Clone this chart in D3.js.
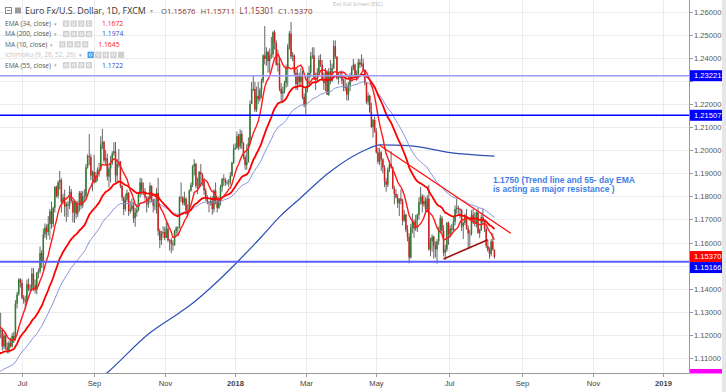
<!DOCTYPE html>
<html><head><meta charset="utf-8">
<script src="https://cdn.jsdelivr.net/npm/d3@7"></script>
<style>body{margin:0;background:#fff;overflow:hidden}svg{display:block}</style>
</head><body>
<svg id="c" width="726" height="392"></svg>
<script>
// ---------------- DATA ----------------
const startDate = "2017-06-12";           // first daily bar (weekdays only)
const warmupCloses = [1.1180,1.1245,1.1215,1.1280,1.1250,1.1275,1.1260,1.1210,1.1195]; // closes before the first bar (for MA10)
// daily bars [open, high, low, close]
const bars = [
// 2017-06
[1.1195,1.1225,1.1180,1.1200],[1.1200,1.1230,1.1190,1.1215],[1.1215,1.1296,1.1185,1.1220],[1.1220,1.1225,1.1132,1.1150],[1.1150,1.1208,1.1138,1.1197],
[1.1197,1.1212,1.1135,1.1145],[1.1145,1.1168,1.1120,1.1135],[1.1135,1.1175,1.1120,1.1165],[1.1165,1.1188,1.1145,1.1150],[1.1150,1.1208,1.1145,1.1195],
[1.1195,1.1214,1.1165,1.1180],[1.1180,1.1350,1.1175,1.1335],[1.1335,1.1387,1.1315,1.1375],[1.1375,1.1445,1.1370,1.1440],[1.1440,1.1446,1.1405,1.1425],
// 2017-07
[1.1425,1.1440,1.1355,1.1360],[1.1360,1.1372,1.1335,1.1350],[1.1350,1.1370,1.1312,1.1345],[1.1345,1.1440,1.1340,1.1420],[1.1420,1.1445,1.1390,1.1400],
[1.1400,1.1418,1.1385,1.1400],[1.1400,1.1490,1.1390,1.1465],[1.1465,1.1490,1.1390,1.1415],[1.1415,1.1440,1.1380,1.1395],[1.1395,1.1472,1.1375,1.1470],
[1.1470,1.1488,1.1445,1.1475],[1.1475,1.1583,1.1465,1.1555],[1.1555,1.1567,1.1490,1.1515],[1.1515,1.1660,1.1480,1.1635],[1.1635,1.1683,1.1620,1.1665],
[1.1665,1.1678,1.1612,1.1645],[1.1645,1.1714,1.1630,1.1680],[1.1680,1.1745,1.1612,1.1735],[1.1735,1.1777,1.1660,1.1680],[1.1680,1.1755,1.1667,1.1750],
[1.1750,1.1845,1.1730,1.1840],
// 2017-08
[1.1840,1.1846,1.1795,1.1802],[1.1802,1.1868,1.1790,1.1860],[1.1860,1.1910,1.1830,1.1870],[1.1870,1.1878,1.1729,1.1775],[1.1775,1.1810,1.1765,1.1795],
[1.1795,1.1829,1.1712,1.1755],[1.1755,1.1775,1.1689,1.1765],[1.1765,1.1779,1.1710,1.1760],[1.1760,1.1846,1.1745,1.1820],[1.1820,1.1832,1.1770,1.1780],
[1.1780,1.1785,1.1687,1.1730],[1.1730,1.1778,1.1685,1.1770],[1.1770,1.1780,1.1704,1.1725],[1.1725,1.1780,1.1710,1.1760],[1.1760,1.1823,1.1734,1.1815],
[1.1815,1.1824,1.1743,1.1760],[1.1760,1.1822,1.1750,1.1800],[1.1800,1.1830,1.1775,1.1800],[1.1800,1.1940,1.1790,1.1925],[1.1925,1.1982,1.1920,1.1975],
[1.1975,1.2070,1.1935,1.1970],[1.1970,1.1982,1.1870,1.1890],[1.1890,1.1912,1.1822,1.1905],
// 2017-09
[1.1905,1.1980,1.1855,1.1860],[1.1860,1.1905,1.1860,1.1890],[1.1890,1.1925,1.1866,1.1915],[1.1915,1.1945,1.1885,1.1915],[1.1915,1.2060,1.1910,1.2025],
[1.2025,1.2092,1.2005,1.2035],[1.2035,1.2040,1.1945,1.1955],[1.1955,1.2000,1.1935,1.1965],[1.1965,1.1985,1.1868,1.1885],[1.1885,1.1930,1.1838,1.1920],
[1.1920,1.1975,1.1860,1.1945],[1.1945,1.1995,1.1935,1.1985],[1.1985,1.2034,1.1975,1.1995],[1.1995,1.2035,1.1860,1.1890],[1.1890,1.1962,1.1860,1.1940],
[1.1940,1.2005,1.1925,1.1950],[1.1950,1.1953,1.1835,1.1845],[1.1845,1.1850,1.1780,1.1795],[1.1795,1.1800,1.1718,1.1745],[1.1745,1.1810,1.1735,1.1785],
[1.1785,1.1830,1.1775,1.1815],
// 2017-10
[1.1815,1.1818,1.1715,1.1735],[1.1735,1.1780,1.1725,1.1745],[1.1745,1.1790,1.1735,1.1760],[1.1760,1.1775,1.1685,1.1705],[1.1705,1.1750,1.1668,1.1730],
[1.1730,1.1765,1.1712,1.1740],[1.1740,1.1820,1.1735,1.1810],[1.1810,1.1880,1.1795,1.1860],[1.1860,1.1878,1.1805,1.1825],[1.1825,1.1860,1.1805,1.1820],
[1.1820,1.1835,1.1785,1.1795],[1.1795,1.1800,1.1730,1.1765],[1.1765,1.1800,1.1750,1.1790],[1.1790,1.1860,1.1770,1.1845],[1.1845,1.1848,1.1775,1.1785],
[1.1785,1.1790,1.1730,1.1760],[1.1760,1.1790,1.1740,1.1760],[1.1760,1.1835,1.1725,1.1815],[1.1815,1.1880,1.1630,1.1650],[1.1650,1.1660,1.1575,1.1610],
[1.1610,1.1650,1.1590,1.1640],[1.1640,1.1670,1.1620,1.1645],
// 2017-11
[1.1645,1.1668,1.1610,1.1620],[1.1620,1.1688,1.1620,1.1660],[1.1660,1.1685,1.1602,1.1610],[1.1610,1.1615,1.1565,1.1610],[1.1610,1.1620,1.1554,1.1595],
[1.1595,1.1610,1.1565,1.1590],[1.1590,1.1655,1.1585,1.1650],[1.1650,1.1670,1.1630,1.1665],[1.1665,1.1670,1.1630,1.1665],[1.1665,1.1800,1.1660,1.1795],
[1.1795,1.1860,1.1775,1.1795],[1.1795,1.1800,1.1760,1.1770],[1.1770,1.1820,1.1760,1.1790],[1.1790,1.1795,1.1720,1.1735],[1.1735,1.1765,1.1710,1.1735],
[1.1735,1.1830,1.1730,1.1825],[1.1825,1.1860,1.1820,1.1850],[1.1850,1.1935,1.1840,1.1930],[1.1930,1.1960,1.1890,1.1940],[1.1940,1.1945,1.1835,1.1845],
[1.1845,1.1880,1.1810,1.1845],[1.1845,1.1910,1.1835,1.1905],
// 2017-12
[1.1905,1.1940,1.1840,1.1895],[1.1895,1.1900,1.1845,1.1865],[1.1865,1.1880,1.1805,1.1825],[1.1825,1.1835,1.1780,1.1795],[1.1795,1.1805,1.1765,1.1775],
[1.1775,1.1780,1.1730,1.1770],[1.1770,1.1800,1.1760,1.1780],[1.1780,1.1800,1.1720,1.1745],[1.1745,1.1830,1.1730,1.1825],[1.1825,1.1860,1.1765,1.1780],
[1.1780,1.1795,1.1730,1.1750],[1.1750,1.1800,1.1745,1.1780],[1.1780,1.1850,1.1760,1.1840],[1.1840,1.1880,1.1820,1.1875],[1.1875,1.1895,1.1845,1.1870],
[1.1870,1.1880,1.1845,1.1860],[1.1860,1.1870,1.1850,1.1860],[1.1860,1.1875,1.1840,1.1860],[1.1860,1.1905,1.1850,1.1890],[1.1890,1.1950,1.1885,1.1945],
[1.1945,1.2025,1.1940,1.2005],
// 2018-01
[1.2005,1.2030,1.2000,1.2010],[1.2010,1.2080,1.2005,1.2060],[1.2060,1.2070,1.2000,1.2015],[1.2015,1.2090,1.2005,1.2070],[1.2070,1.2085,1.2005,1.2030],
[1.2030,1.2035,1.1960,1.1970],[1.1970,1.1980,1.1915,1.1935],[1.1935,1.2025,1.1915,1.1950],[1.1950,1.2055,1.1945,1.2030],[1.2030,1.2215,1.2025,1.2200],
[1.2200,1.2295,1.2200,1.2265],[1.2265,1.2325,1.2255,1.2265],[1.2265,1.2295,1.2165,1.2175],[1.2175,1.2275,1.2165,1.2235],[1.2235,1.2295,1.2200,1.2220],
[1.2220,1.2270,1.2210,1.2260],[1.2260,1.2310,1.2225,1.2300],[1.2300,1.2415,1.2290,1.2410],[1.2410,1.2537,1.2370,1.2395],[1.2395,1.2445,1.2365,1.2425],
[1.2425,1.2430,1.2335,1.2385],[1.2385,1.2440,1.2335,1.2410],[1.2410,1.2490,1.2395,1.2415],
// 2018-02
[1.2415,1.2515,1.2400,1.2510],[1.2510,1.2520,1.2435,1.2465],[1.2465,1.2475,1.2365,1.2370],[1.2370,1.2435,1.2340,1.2375],[1.2375,1.2405,1.2255,1.2265],
[1.2265,1.2290,1.2210,1.2245],[1.2245,1.2275,1.2205,1.2255],[1.2255,1.2300,1.2245,1.2290],[1.2290,1.2370,1.2270,1.2350],[1.2350,1.2460,1.2275,1.2450],
[1.2450,1.2515,1.2435,1.2505],[1.2505,1.2555,1.2395,1.2405],[1.2405,1.2425,1.2385,1.2410],[1.2410,1.2415,1.2325,1.2335],[1.2335,1.2360,1.2260,1.2285],
[1.2285,1.2350,1.2260,1.2325],[1.2325,1.2335,1.2280,1.2295],[1.2295,1.2355,1.2285,1.2320],[1.2320,1.2345,1.2220,1.2230],[1.2230,1.2245,1.2185,1.2195],
// 2018-03
[1.2195,1.2275,1.2155,1.2265],[1.2265,1.2335,1.2250,1.2315],[1.2315,1.2365,1.2275,1.2335],[1.2335,1.2425,1.2315,1.2405],[1.2405,1.2445,1.2395,1.2410],
[1.2410,1.2445,1.2305,1.2310],[1.2310,1.2335,1.2260,1.2305],[1.2305,1.2355,1.2295,1.2335],[1.2335,1.2410,1.2320,1.2390],[1.2390,1.2415,1.2360,1.2370],
[1.2370,1.2390,1.2300,1.2305],[1.2305,1.2335,1.2260,1.2290],[1.2290,1.2355,1.2255,1.2340],[1.2340,1.2345,1.2240,1.2240],[1.2240,1.2355,1.2235,1.2340],
[1.2340,1.2390,1.2285,1.2300],[1.2300,1.2375,1.2295,1.2355],[1.2355,1.2475,1.2350,1.2450],[1.2450,1.2475,1.2395,1.2405],[1.2405,1.2405,1.2305,1.2310],
[1.2310,1.2335,1.2285,1.2320],[1.2320,1.2335,1.2310,1.2325],
// 2018-04
[1.2325,1.2345,1.2285,1.2300],[1.2300,1.2310,1.2255,1.2270],[1.2270,1.2320,1.2255,1.2275],[1.2275,1.2290,1.2215,1.2240],[1.2240,1.2295,1.2215,1.2280],
[1.2280,1.2335,1.2255,1.2320],[1.2320,1.2365,1.2305,1.2355],[1.2355,1.2395,1.2345,1.2370],[1.2370,1.2375,1.2315,1.2325],[1.2325,1.2345,1.2300,1.2330],
[1.2330,1.2395,1.2320,1.2380],[1.2380,1.2395,1.2355,1.2370],[1.2370,1.2414,1.2360,1.2375],[1.2375,1.2395,1.2340,1.2345],[1.2345,1.2350,1.2280,1.2290],
[1.2290,1.2295,1.2200,1.2210],[1.2210,1.2250,1.2195,1.2235],[1.2235,1.2240,1.2160,1.2165],[1.2165,1.2205,1.2095,1.2100],[1.2100,1.2135,1.2055,1.2130],
[1.2130,1.2145,1.2075,1.2080],
// 2018-05
[1.2080,1.2095,1.1985,1.1990],[1.1990,1.2010,1.1940,1.1950],[1.1950,1.2010,1.1935,1.1990],[1.1990,1.1995,1.1910,1.1960],[1.1960,1.1965,1.1900,1.1925],
[1.1925,1.1935,1.1840,1.1865],[1.1865,1.1880,1.1820,1.1850],[1.1850,1.1925,1.1840,1.1915],[1.1915,1.1955,1.1905,1.1940],[1.1940,1.1995,1.1925,1.1925],
[1.1925,1.1930,1.1830,1.1835],[1.1835,1.1845,1.1765,1.1810],[1.1810,1.1830,1.1790,1.1795],[1.1795,1.1810,1.1750,1.1770],[1.1770,1.1790,1.1715,1.1790],
[1.1790,1.1830,1.1765,1.1780],[1.1780,1.1790,1.1675,1.1695],[1.1695,1.1740,1.1690,1.1720],[1.1720,1.1725,1.1645,1.1655],[1.1655,1.1675,1.1605,1.1625],
[1.1625,1.1640,1.1510,1.1535],[1.1535,1.1680,1.1530,1.1665],[1.1665,1.1725,1.1640,1.1690],
// 2018-06
[1.1690,1.1700,1.1620,1.1660],[1.1660,1.1720,1.1650,1.1695],[1.1695,1.1725,1.1645,1.1720],[1.1720,1.1795,1.1700,1.1775],[1.1775,1.1840,1.1765,1.1800],
[1.1800,1.1810,1.1730,1.1765],[1.1765,1.1805,1.1755,1.1780],[1.1780,1.1795,1.1725,1.1745],[1.1745,1.1805,1.1730,1.1790],[1.1790,1.1850,1.1565,1.1570],
[1.1570,1.1620,1.1540,1.1605],[1.1605,1.1635,1.1560,1.1625],[1.1625,1.1630,1.1530,1.1585],[1.1585,1.1605,1.1535,1.1570],[1.1570,1.1615,1.1508,1.1605],
[1.1605,1.1670,1.1590,1.1655],[1.1655,1.1720,1.1645,1.1705],[1.1705,1.1715,1.1640,1.1650],[1.1650,1.1675,1.1540,1.1555],[1.1555,1.1590,1.1525,1.1570],
[1.1570,1.1690,1.1560,1.1685],
// 2018-07
[1.1685,1.1690,1.1590,1.1635],[1.1635,1.1675,1.1620,1.1660],[1.1660,1.1680,1.1630,1.1655],[1.1655,1.1715,1.1650,1.1690],[1.1690,1.1760,1.1675,1.1745],
[1.1745,1.1790,1.1725,1.1750],[1.1750,1.1760,1.1720,1.1745],[1.1745,1.1750,1.1705,1.1740],[1.1740,1.1745,1.1650,1.1670],[1.1670,1.1690,1.1615,1.1685],
[1.1685,1.1725,1.1675,1.1710],[1.1710,1.1745,1.1655,1.1660],[1.1660,1.1675,1.1575,1.1640],[1.1640,1.1655,1.1575,1.1640],[1.1640,1.1740,1.1630,1.1720],
[1.1720,1.1745,1.1680,1.1695],[1.1695,1.1730,1.1670,1.1685],[1.1685,1.1735,1.1665,1.1730],[1.1730,1.1750,1.1640,1.1640],[1.1640,1.1660,1.1620,1.1655],
[1.1655,1.1720,1.1650,1.1710],[1.1710,1.1745,1.1675,1.1690],
// 2018-08
[1.1690,1.1700,1.1645,1.1660],[1.1660,1.1665,1.1575,1.1585],[1.1585,1.1610,1.1560,1.1565],[1.1565,1.1580,1.1530,1.1550],[1.1550,1.1615,1.1540,1.1605],
[1.1605,1.1640,1.1565,1.1570],[1.15676,1.15711,1.15301,1.15370]
];
const ema34Seed = 1.1110;   // EMA(34) level at the first bar
const ema55Seed = 1.1030;   // EMA(55) level at the first bar
const ma200Dates  = ["2017-08-21","2017-09-13","2017-10-19","2017-11-14","2017-11-22","2017-12-15","2018-01-03","2018-01-23","2018-02-07","2018-02-26","2018-03-21","2018-04-24","2018-05-03","2018-05-29","2018-07-03","2018-08-09"];
const ma200Values = [1.0937,1.1036,1.1209,1.1296,1.1326,1.1430,1.1521,1.1625,1.1711,1.1794,1.1902,1.2006,1.2023,1.2019,1.1989,1.1974];
const hLevels = [1.23221, 1.21507, 1.15166];
const hColors = ["#9a9aff", "#0000ff", "#5c5cff"];
const trendLine = [["2018-05-03", 1.2021], ["2018-08-23", 1.1640]];
const supportLine = [["2018-06-27", 1.1529], ["2018-08-03", 1.1612]];
const yTicks = [1.11,1.12,1.13,1.14,1.15,1.16,1.17,1.18,1.19,1.20,1.21,1.22,1.23,1.24,1.25,1.26];
const monthTicks  = ["2017-07-03","2017-09-01","2017-11-01","2018-01-01","2018-03-01","2018-05-01","2018-07-02","2018-09-03","2018-11-01","2019-01-01"];
const monthLabels = ["Jul","Sep","Nov","2018","Mar","May","Jul","Sep","Nov","2019"];
const legendNames  = ["EMA (34, close)","MA (200, close)","MA (10, close)","Ichimoku (9, 26, 52, 26)","EMA (55, close)"];
const legendValues = ["1.1672","1.1974","1.1645","","1.1722"];
const legendColors = ["#ff2020","#3050c0","#ff2020","#bbbbbb","#3050c0"];
const headerTitle = "Euro Fx/U.S. Dollar, 1D, FXCM";
const ohlcLetters = ["O","H","L","C"];
const ohlcValues = ["1.15676","1.15711","1.15301","1.15370"];
const noteLines = ["1.1750 (Trend line and 55- day EMA", "is acting as major resistance )"];

// ---------------- CHART ----------------
const svg = d3.select("#c");
const PW = 689, PH = 373;
const parse = d3.utcParse("%Y-%m-%d"), fmt = d3.utcFormat("%Y-%m-%d");
const calendar = d3.utcDay.range(parse(startDate), parse("2019-03-01")).filter(d => d.getUTCDay() % 6 !== 0);
const idxOf = new Map(calendar.map((d, i) => [fmt(d), i]));
const x = d3.scaleLinear().domain([idxOf.get("2017-07-03"), idxOf.get("2018-07-02")]).range([22, 448.5]);
const y = d3.scaleLinear().domain([1.11, 1.26]).range([358, 11.5]);

svg.append("rect").attr("width", 726).attr("height", 392).attr("fill", "#fff");
svg.append("defs").append("clipPath").attr("id", "plot").append("rect").attr("width", PW).attr("height", PH);

// grid
const grid = svg.append("g");
grid.selectAll(".hg").data(yTicks).join("line")
  .attr("x1", 0).attr("x2", PW).attr("y1", d => Math.round(y(d)) + 0.5).attr("y2", d => Math.round(y(d)) + 0.5)
  .attr("stroke", "#ececec");
grid.selectAll(".vg").data(monthTicks).join("line")
  .attr("y1", 0).attr("y2", PH).attr("x1", d => Math.round(x(idxOf.get(d))) + 0.5).attr("x2", d => Math.round(x(idxOf.get(d))) + 0.5)
  .attr("stroke", "#ececec");

const plot = svg.append("g").attr("clip-path", "url(#plot)");

// candles
const cg = plot.append("g");
bars.forEach((b, i) => {
  const [o, h, l, c] = b;
  const up = c >= o;
  cg.append("line").attr("x1", x(i)).attr("x2", x(i)).attr("y1", y(h)).attr("y2", y(l))
    .attr("stroke", "#555").attr("stroke-width", 0.9);
  const y0 = Math.min(y(o), y(c)), hh = Math.max(0.8, Math.abs(y(o) - y(c)));
  cg.append("rect").attr("x", x(i) - 0.75).attr("width", 1.5).attr("y", y0).attr("height", hh)
    .attr("fill", up ? "#2e7d32" : "#cf2020");
});

// indicators
const closes = bars.map(b => b[3]);
const ema = (seed, n) => { const k = 2 / (n + 1); let e = seed; return closes.map((c, i) => (i === 0 ? e : (e = e + k * (c - e)))); };
const ema34 = ema(ema34Seed, 34), ema55 = ema(ema55Seed, 55);
const all = warmupCloses.concat(closes);
const ma10 = closes.map((c, i) => d3.mean(all.slice(i, i + 10)));
const line = d3.line().x((d, i) => x(i)).y(d => y(d));
plot.append("path").attr("d", d3.line().curve(d3.curveMonotoneX).x((d, i) => x(idxOf.get(ma200Dates[i]))).y(d => y(d))(ma200Values))
  .attr("fill", "none").attr("stroke", "#2c4fb5").attr("stroke-width", 1.2);
plot.append("path").attr("d", line(ema55)).attr("fill", "none").attr("stroke", "#8393dc").attr("stroke-width", 1);
plot.append("path").attr("d", line(ema34)).attr("fill", "none").attr("stroke", "#ff0000").attr("stroke-width", 1.8);
plot.append("path").attr("d", line(ma10)).attr("fill", "none").attr("stroke", "#ff1a1a").attr("stroke-width", 1.4);

// drawings
hLevels.forEach((v, i) => {
  plot.append("line").attr("x1", 0).attr("x2", PW).attr("y1", y(v)).attr("y2", y(v))
    .attr("stroke", hColors[i]).attr("stroke-width", i === 2 ? 2 : 1.4);
});
const seg = (pts, col, w) => plot.append("line")
  .attr("x1", x(idxOf.get(pts[0][0]))).attr("y1", y(pts[0][1]))
  .attr("x2", x(idxOf.get(pts[1][0]))).attr("y2", y(pts[1][1]))
  .attr("stroke", col).attr("stroke-width", w);
seg(trendLine, "#ff1010", 1.3);
seg(supportLine, "#a01010", 1.6);

// fit a text's font size to a target width
const fitText = (sel, target) => {
  const fs = +sel.attr("font-size");
  const w = sel.node().getComputedTextLength();
  sel.attr("font-size", (fs * target / w).toFixed(2));
  return fs * target / w;
};
const n0 = svg.append("text").attr("x", 493).attr("y", 182.5)
  .attr("font-family", "Liberation Sans, Arial, sans-serif").attr("font-weight", "bold").attr("font-size", 8)
  .attr("fill", "#3f80e6").text(noteLines[0]);
const noteFs = fitText(n0, 142);
svg.append("text").attr("x", 493).attr("y", 191.5)
  .attr("font-family", "Liberation Sans, Arial, sans-serif").attr("font-weight", "bold").attr("font-size", noteFs.toFixed(2))
  .attr("fill", "#3f80e6").text(noteLines[1]);

// axes
const axisFont = "Liberation Sans, Arial, sans-serif";
svg.append("line").attr("x1", PW + 0.5).attr("x2", PW + 0.5).attr("y1", 0).attr("y2", PH + 0.5).attr("stroke", "#9a9a9a");
svg.append("line").attr("x1", 0).attr("x2", PW + 0.5).attr("y1", PH + 0.5).attr("y2", PH + 0.5).attr("stroke", "#9a9a9a");

const lastClose = closes[closes.length - 1];
const tagCenters = [y(hLevels[0]), y(hLevels[1]), y(lastClose) - 0.5, y(lastClose) + 10.5];
yTicks.forEach(v => {
  const yy = Math.round(y(v)) + 0.5;
  svg.append("line").attr("x1", PW).attr("x2", PW + 4).attr("y1", yy).attr("y2", yy).attr("stroke", "#9a9a9a");
  if (tagCenters.some(t => Math.abs(t - yy) < 9)) return;   // hidden behind a price tag
  svg.append("text").attr("x", PW + 5).attr("y", yy + 2.7).attr("font-family", axisFont).attr("font-size", 7.6)
    .attr("fill", "#555").text(v.toFixed(5));
});
monthTicks.forEach((d, i) => {
  const xx = Math.round(x(idxOf.get(d))) + 0.5;
  svg.append("line").attr("x1", xx).attr("x2", xx).attr("y1", PH).attr("y2", PH + 4).attr("stroke", "#9a9a9a");
  svg.append("text").attr("x", xx).attr("y", 386).attr("text-anchor", "middle").attr("font-family", axisFont)
    .attr("font-size", 7.6).attr("font-weight", /\d{4}/.test(monthLabels[i]) ? "bold" : "normal").attr("fill", "#444").text(monthLabels[i]);
});

// price labels on the right axis
const tag = (v, yc, col) => {
  svg.append("rect").attr("x", PW + 1).attr("y", yc - 5.5).attr("width", 32).attr("height", 11).attr("fill", col);
  svg.append("text").attr("x", PW + 5).attr("y", yc + 2.8).attr("font-family", axisFont).attr("font-size", 7.6)
    .attr("fill", "#fff").text(v.toFixed(5));
};
tag(hLevels[0], tagCenters[0], "#0000ff");
tag(hLevels[1], tagCenters[1], "#0000ff");
tag(lastClose, tagCenters[2], "#ff0000");
tag(hLevels[2], tagCenters[3], "#0000ff");
svg.append("rect").attr("x", PW + 1).attr("y", 369).attr("width", 32).attr("height", 4.5).attr("fill", "#ff00ff");
svg.append("rect").attr("x", 722).attr("y", 0).attr("width", 4).attr("height", 392).attr("fill", "#e6e6e6");

// header
const hf = "Open Sans, Lato, sans-serif";
svg.append("rect").attr("x", 5.5).attr("y", 7.5).attr("width", 6).attr("height", 6).attr("fill", "#fff").attr("stroke", "#888");
svg.append("line").attr("x1", 7).attr("x2", 10.5).attr("y1", 10.5).attr("y2", 10.5).attr("stroke", "#888");
svg.append("rect").attr("x", 15).attr("y", 7.5).attr("width", 6).attr("height", 6).attr("fill", "#9a9a9a");
const title = svg.append("text").attr("x", 25).attr("y", 14).attr("font-family", hf).attr("font-size", 9).attr("fill", "#333").text(headerTitle);
fitText(title, 121);
svg.append("text").attr("x", 149.5).attr("y", 13).attr("font-family", hf).attr("font-size", 6).attr("fill", "#aaa").text("▾");
const ohlcX = [161, 200.5, 239.5, 278];
ohlcLetters.forEach((L, i) => {
  const t = svg.append("text").attr("x", ohlcX[i]).attr("y", 14).attr("font-family", hf).attr("font-size", 8);
  t.append("tspan").attr("fill", "#555").text(L);
  t.append("tspan").attr("fill", "#8b2c2c").text(ohlcValues[i]);
  fitText(t, 34.5);
});
svg.append("text").attr("x", 333).attr("y", 6).attr("font-family", hf).attr("font-size", 5.2).attr("fill", "#b8b8b8").text("Exit Full Screen (ESC)");

// indicator legend
legendNames.forEach((name, i) => {
  const yc = 23.5 + i * 10.4;
  const t = svg.append("text").attr("x", 5).attr("y", yc + 2.5).attr("font-family", hf).attr("font-size", 6.6)
    .attr("fill", i === 3 ? "#c4c4c4" : "#555").text(name);
  const w = t.node().getComputedTextLength();
  svg.append("text").attr("x", 5 + w + 3).attr("y", yc + 2.2).attr("font-family", hf).attr("font-size", 5).attr("fill", "#aaa").text("▾");
  const bx = 5 + w + 12;
  for (let k = 0; k < 4; k++) {
    const rx = bx + k * 7.6;
    svg.append("rect").attr("x", rx).attr("y", yc - 3).attr("width", 6.2).attr("height", 6.2)
      .attr("fill", (i === 3 && k === 0) ? "#3b9be8" : "#cfcfcf");
    svg.append("circle").attr("cx", rx + 3.1).attr("cy", yc + 0.1).attr("r", 1.4).attr("fill", "none").attr("stroke", "#fff").attr("stroke-width", 0.8);
  }
  if (i === 3) svg.append("rect").attr("x", bx + 4 * 7.6).attr("y", yc - 3).attr("width", 6.2).attr("height", 6.2).attr("fill", "#cfcfcf");
  if (legendValues[i]) svg.append("text").attr("x", bx + 39).attr("y", yc + 2.5).attr("font-family", hf).attr("font-size", 6.8)
    .attr("fill", legendColors[i]).text(legendValues[i]);
});
</script>
</body></html>
